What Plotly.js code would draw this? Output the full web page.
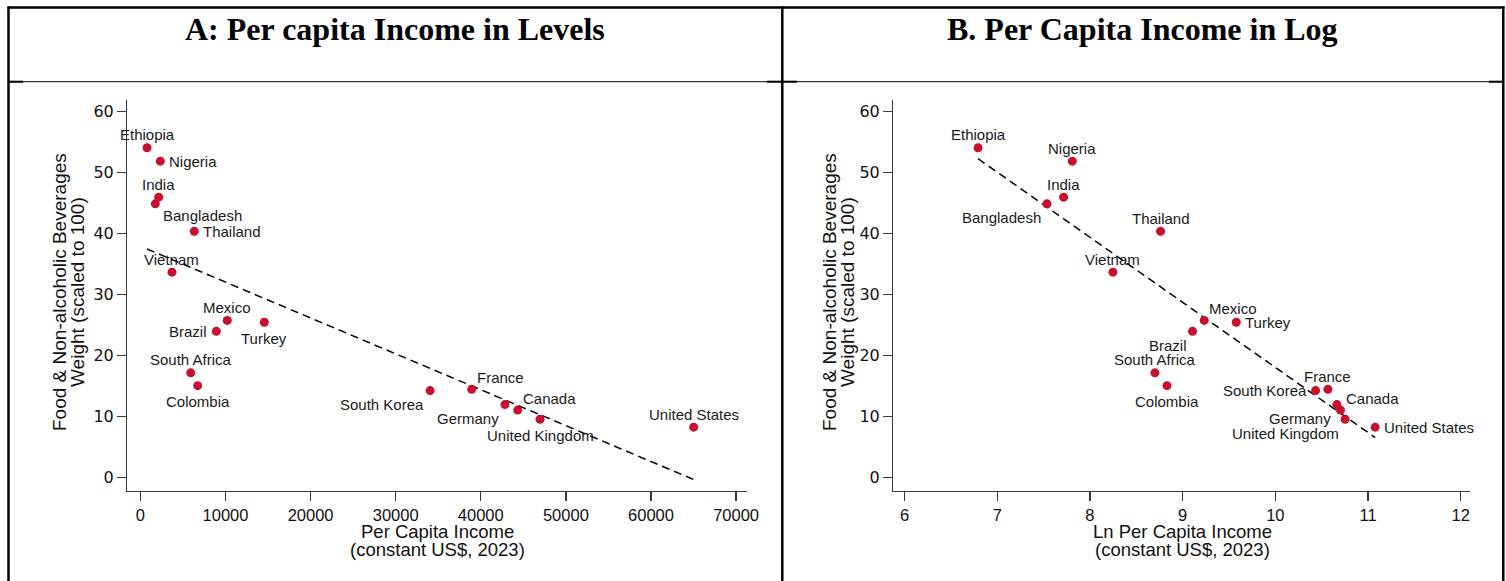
<!DOCTYPE html>
<html>
<head>
<meta charset="utf-8">
<script src="https://cdn.plot.ly/plotly-3.0.1.min.js"></script>
<style>html,body{margin:0;padding:0;background:#fff;}#chart{width:1506px;height:581px;}</style>
</head>
<body>
<div id="chart"></div>
<script>
// ---- data ----
const countries = ["Ethiopia","Nigeria","India","Bangladesh","Thailand","Vietnam","Mexico","Brazil","Turkey","South Africa","Colombia","South Korea","France","Germany","Canada","United Kingdom","United States"];
const incomeLevels = [780, 2340, 2150, 1750, 6330, 3710, 10210, 8920, 14560, 5910, 6730, 34050, 38930, 42840, 44340, 46960, 65020];
const lnIncome = [6.793, 7.810, 7.716, 7.537, 8.762, 8.248, 9.233, 9.107, 9.578, 8.701, 8.831, 10.434, 10.567, 10.664, 10.703, 10.753, 11.077];
const foodWeight = [54.1, 51.9, 46.0, 44.9, 40.4, 33.7, 25.8, 24.0, 25.5, 17.2, 15.1, 14.3, 14.5, 12.0, 11.1, 9.6, 8.3];
const fitA_x = [776, 64970];
const fitA_y = [37.5, -0.25];
const fitB_x = [6.793, 11.077];
const fitB_y = [52.3, 6.6];
const yTicks = [0, 10, 20, 30, 40, 50, 60];
const xTicksA = [0, 10000, 20000, 30000, 40000, 50000, 60000, 70000];
const xTicksB = [6, 7, 8, 9, 10, 11, 12];

// ---- label placement (clock positions, style only) ----
const labelPosA = [12, 3, 12, 4, 3, 12, 12, 9, 6, 12, 6, 7, 1, 7, 1, 6, 12];
const labelPosB = [12, 12, 12, 7, 12, 12, 1, 7, 3, 12, 6, 9, 12, 7, 1, 7, 3];

const W = 1506, H = 581;
const px = x => x / W;
const py = y => 1 - y / H;

const clock = {
  12: {xa: 'center', xs: 0, ys: 13},
  3: {xa: 'left', xs: 8, ys: 0},
  9: {xa: 'right', xs: -8, ys: 0},
  6: {xa: 'center', xs: 0, ys: -16},
  1: {xa: 'left', xs: 4, ys: 12},
  7: {xa: 'right', xs: -5, ys: -14},
  4: {xa: 'left', xs: 7, ys: -12}
};

const markerColor = '#c8102e';
const labFont = {family: 'Liberation Sans, Arial, sans-serif', size: 15, color: '#1a1a1a'};

const traces = [
  {x: fitA_x, y: fitA_y, xaxis: 'x', yaxis: 'y', mode: 'lines', line: {color: '#000', width: 1.5, dash: '8px,5px'}, hoverinfo: 'skip'},
  {x: incomeLevels, y: foodWeight, xaxis: 'x', yaxis: 'y', mode: 'markers', marker: {color: markerColor, size: 9}, text: countries},
  {x: fitB_x, y: fitB_y, xaxis: 'x2', yaxis: 'y2', mode: 'lines', line: {color: '#000', width: 1.5, dash: '8px,5px'}, hoverinfo: 'skip'},
  {x: lnIncome, y: foodWeight, xaxis: 'x2', yaxis: 'y2', mode: 'markers', marker: {color: markerColor, size: 9}, text: countries}
];

const annotations = [];
function addLabels(xs, pos, xr, yr) {
  countries.forEach((c, i) => {
    const p = clock[pos[i]];
    annotations.push({
      x: xs[i], y: foodWeight[i], xref: xr, yref: yr, text: c, showarrow: false,
      xanchor: p.xa, yanchor: 'middle', xshift: p.xs, yshift: p.ys, font: labFont, borderpad: 0
    });
  });
}
addLabels(incomeLevels, labelPosA, 'x', 'y');
addLabels(lnIncome, labelPosB, 'x2', 'y2');

// titles
const titleFont = {family: 'Liberation Serif, Times New Roman, serif', size: 32, color: '#000', weight: 'bold'};
annotations.push({xref: 'paper', yref: 'paper', x: px(395), y: py(29), text: '<b>A: Per capita Income in Levels</b>', showarrow: false, xanchor: 'center', yanchor: 'middle', font: titleFont});
annotations.push({xref: 'paper', yref: 'paper', x: px(1142), y: py(29), text: '<b>B. Per Capita Income in Log</b>', showarrow: false, xanchor: 'center', yanchor: 'middle', font: titleFont});

// y-axis titles (two rotated lines each)
const yTitleFont = {family: 'Liberation Sans, Arial, sans-serif', size: 19, color: '#111'};
[[59, 77], [829, 847]].forEach(([x1, x2]) => {
  annotations.push({xref: 'paper', yref: 'paper', x: px(x1), y: py(292), text: 'Food & Non-alcoholic Beverages', textangle: -90, showarrow: false, xanchor: 'center', yanchor: 'middle', font: yTitleFont});
  annotations.push({xref: 'paper', yref: 'paper', x: px(x2), y: py(292), text: 'Weight (scaled to 100)', textangle: -90, showarrow: false, xanchor: 'center', yanchor: 'middle', font: yTitleFont});
});

// x-axis titles
const xTitleFont = {family: 'Liberation Sans, Arial, sans-serif', size: 18.5, color: '#111'};
[[437, 'Per Capita Income'], [1182, 'Ln Per Capita Income']].forEach(([cx, t]) => {
  annotations.push({xref: 'paper', yref: 'paper', x: px(cx), y: py(531), text: t, showarrow: false, xanchor: 'center', yanchor: 'middle', font: xTitleFont});
  annotations.push({xref: 'paper', yref: 'paper', x: px(cx), y: py(549), text: '(constant US$, 2023)', showarrow: false, xanchor: 'center', yanchor: 'middle', font: xTitleFont});
});

// panel frames
function hline(y, x0, x1, w) { return {type: 'line', xref: 'paper', yref: 'paper', x0: px(x0), x1: px(x1), y0: py(y), y1: py(y), line: {color: '#000', width: w}}; }
function vline(x, y0, y1, w) { return {type: 'line', xref: 'paper', yref: 'paper', x0: px(x), x1: px(x), y0: py(y0), y1: py(y1), line: {color: '#000', width: w}}; }
const shapes = [
  hline(7.5, 7.5, 1504.5, 2.5),
  vline(8.5, 6.5, 581, 2.5),
  vline(782.3, 6.5, 581, 2.5),
  vline(1503.3, 6.5, 581, 2.5),
  hline(81.7, 8, 1503, 1),
  hline(81.7, 9, 23, 2),
  hline(81.7, 767, 797, 2),
  hline(81.7, 1489, 1503, 2)
];

const axisCommon = {
  showline: true, linecolor: '#3a3a3a', linewidth: 1.3, ticks: 'outside', ticklen: 9, tickwidth: 1.3, tickcolor: '#3a3a3a',
  showgrid: false, zeroline: false, fixedrange: true
};
const xTickFont = {family: 'Liberation Sans, Arial, sans-serif', size: 16.5, color: '#111'};
const yTickFont = {family: 'DejaVu Sans, sans-serif', size: 16, color: '#111'};
const yDom = [py(490.5), py(100)];

const layout = {
  width: W, height: H, margin: {l: 0, r: 0, t: 0, b: 0}, paper_bgcolor: '#fff', plot_bgcolor: 'rgba(0,0,0,0)',
  showlegend: false, hovermode: 'closest',
  xaxis: Object.assign({}, axisCommon, {domain: [px(127.3), px(747.3)], range: [-1540, 71320], tickvals: xTicksA, ticktext: xTicksA.map(String), tickfont: xTickFont, anchor: 'y'}),
  yaxis: Object.assign({}, axisCommon, {domain: yDom, range: [-2.08, 61.92], tickvals: yTicks, ticktext: yTicks.map(String), tickfont: yTickFont, anchor: 'x'}),
  xaxis2: Object.assign({}, axisCommon, {domain: [px(893.3), px(1470)], range: [5.879, 12.10], tickvals: xTicksB, ticktext: xTicksB.map(String), tickfont: xTickFont, anchor: 'y2'}),
  yaxis2: Object.assign({}, axisCommon, {domain: yDom, range: [-2.08, 61.92], tickvals: yTicks, ticktext: yTicks.map(String), tickfont: yTickFont, anchor: 'x2'}),
  annotations: annotations,
  shapes: shapes
};

Plotly.newPlot('chart', traces, layout, {displayModeBar: false, staticPlot: true});
</script>
</body>
</html>
